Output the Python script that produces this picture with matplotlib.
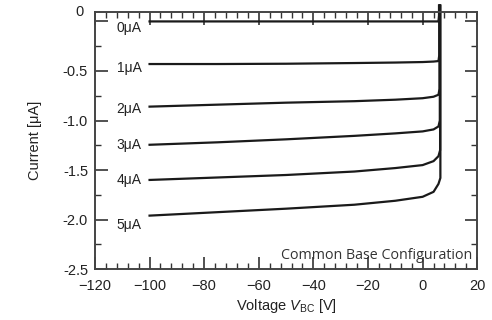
import matplotlib
matplotlib.use('Agg')
import matplotlib.pyplot as plt
from matplotlib.ticker import MultipleLocator

plt.rcParams['font.family'] = ['Liberation Sans', 'DejaVu Sans']
plt.rcParams['mathtext.fontset'] = 'custom'
plt.rcParams['mathtext.rm'] = 'Liberation Sans'
plt.rcParams['mathtext.it'] = 'Liberation Sans:italic'

# voltage points (V) and collector current for each emitter current (uA)
voltage = [-100, -75, -50, -25, -10, 0, 4, 5.8]
i0 = [0.0, 0.0, 0.0, 0.0, 0.0, 0.0, 0.0, 0.0]
i1 = [-0.43, -0.43, -0.427, -0.42, -0.415, -0.41, -0.405, -0.40]
i2 = [-0.86, -0.84, -0.82, -0.805, -0.79, -0.775, -0.76, -0.74]
i3 = [-1.245, -1.22, -1.19, -1.155, -1.13, -1.11, -1.09, -1.06]
i4 = [-1.60, -1.575, -1.55, -1.515, -1.48, -1.45, -1.41, -1.36]
i5 = [-1.96, -1.925, -1.89, -1.85, -1.81, -1.77, -1.72, -1.64]
curves = [i0, i1, i2, i3, i4, i5]
# breakdown voltage where each curve turns vertical
knee_v = [6.0, 6.1, 6.2, 6.3, 6.4, 6.5]
top_i = 0.16
labels = ['0\u03bcA', '1\u03bcA', '2\u03bcA', '3\u03bcA', '4\u03bcA', '5\u03bcA']
label_dy = [-0.065, -0.04, -0.02, 0.0, 0.0, -0.09]

xticks = [-120, -100, -80, -60, -40, -20, 0, 20]
yticks = [-2.5, -2.0, -1.5, -1.0, -0.5, 0]
ytick_labels = ['-2.5', '-2.0', '-1.5', '-1.0', '-0.5', '']

fig = plt.figure(figsize=(4.92, 3.2), dpi=100)
ax = fig.add_axes([0.193, 0.159, 0.777, 0.805])

for cur, kv, lab, dy in zip(curves, knee_v, labels, label_dy):
    xs = voltage + [kv, kv]
    ys = cur + [cur[-1] + 0.06, top_i]
    ax.plot(xs, ys, color='#1a1a1a', lw=1.6, clip_on=False,
            solid_joinstyle='round')
    ax.text(-103, cur[0] + dy, lab, ha='right', va='center', fontsize=10,
            color='#222222')

ax.set_xlim(-120, 20)
ax.set_ylim(-2.5, 0.1)
ax.set_xticks(xticks)
ax.set_yticks(yticks)
ax.set_yticklabels(ytick_labels)
ax.xaxis.set_minor_locator(MultipleLocator(4))
ax.yaxis.set_minor_locator(MultipleLocator(0.25))
ax.tick_params(which='both', direction='in', top=True, right=True,
               labelsize=10.5, colors='#333333', labelcolor='#222222')
ax.tick_params(which='major', length=9, width=1.2, pad=5)
ax.tick_params(which='minor', length=4, width=1.0)
ax.tick_params(axis='x', which='major', pad=7)
for s in ax.spines.values():
    s.set_linewidth(1.4)
    s.set_color('#444444')

# the original prints its "0" at the top edge of the frame
ax.text(-0.03, 1.0, '0', transform=ax.transAxes, ha='right', va='center',
        fontsize=10.5, color='#222222')

ax.set_ylabel('Current [\u03bcA]', fontsize=10.5, labelpad=15, color='#222222')
ax.set_xlabel('Voltage $V_{\\mathrm{BC}}$ [V]', fontsize=10.5, labelpad=3,
              color='#222222')

ax.text(0.988, 0.022, 'Common Base Configuration', transform=ax.transAxes,
        ha='right', va='bottom', fontsize=10.3, family='Open Sans',
        color='#333333')

fig.savefig('out.png', dpi=100)
